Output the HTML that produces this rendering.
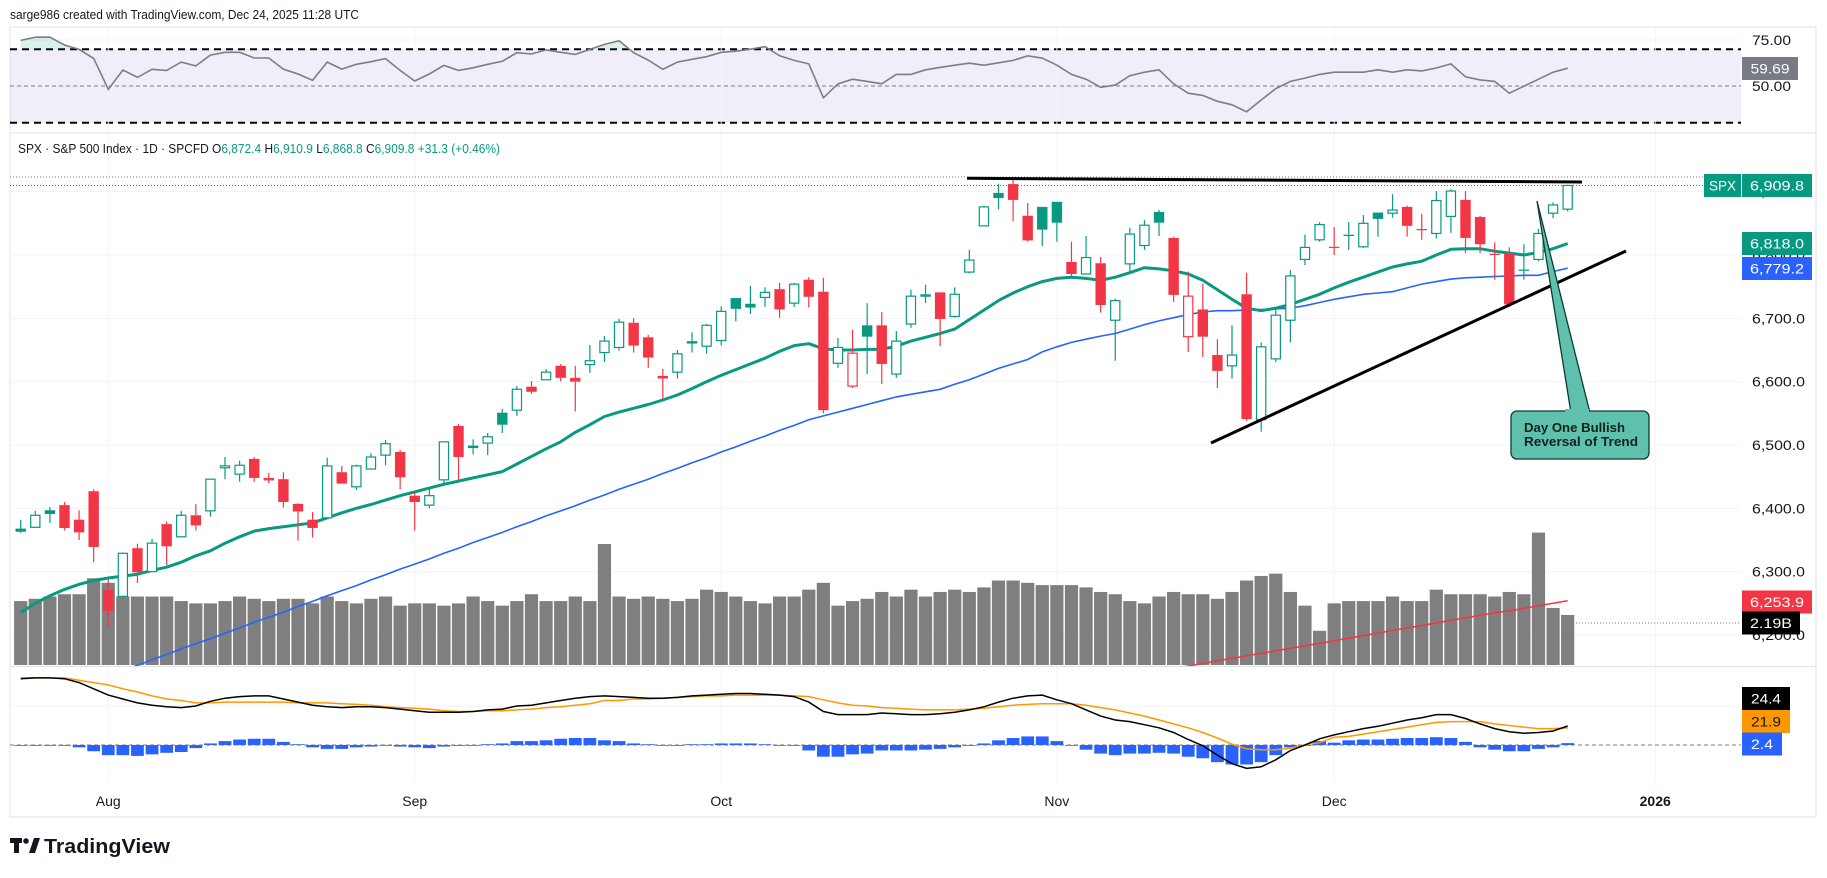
<!DOCTYPE html>
<html><head><meta charset="utf-8"><title>SPX chart</title>
<style>
html,body{margin:0;padding:0;background:#fff;}
svg{display:block;font-family:"Liberation Sans",sans-serif;}
</style></head>
<body>
<svg id="chart" width="1827" height="878" viewBox="0 0 1827 878" xmlns="http://www.w3.org/2000/svg">
  <defs>
    <clipPath id="clipMain"><rect x="10" y="134" width="1731" height="532"/></clipPath>
    <clipPath id="clipRsi"><rect x="10" y="28" width="1731" height="105"/></clipPath>
    <clipPath id="clipMacd"><rect x="10" y="667" width="1731" height="115"/></clipPath>
    <clipPath id="clipOB"><rect x="10" y="28" width="1731" height="21.2"/></clipPath>
  </defs>
  <rect x="0" y="0" width="1827" height="878" fill="#ffffff"/>
  <text x="10" y="19" font-size="13" fill="#131722" textLength="349" lengthAdjust="spacingAndGlyphs">sarge986 created with TradingView.com, Dec 24, 2025 11:28 UTC</text>
  <rect x="10" y="27" width="1806" height="790" fill="none" stroke="#e0e3eb" stroke-width="1"/>
  <rect x="10" y="49" width="1731" height="74" fill="#7e57c2" fill-opacity="0.1"/>
  <line x1="10" y1="49.2" x2="1741" y2="49.2" stroke="#000" stroke-width="2" stroke-dasharray="7,5"/>
  <line x1="10" y1="122.8" x2="1741" y2="122.8" stroke="#000" stroke-width="2" stroke-dasharray="7,5"/>
  <line x1="10" y1="86" x2="1741" y2="86" stroke="#787b86" stroke-width="1" stroke-dasharray="4,3"/>
  <g id="grid"></g>
  <line x1="10" y1="133" x2="1816" y2="133" stroke="#e0e3eb"/>
  <line x1="10" y1="666.5" x2="1816" y2="666.5" stroke="#e0e3eb"/>
  <g id="rsiG" clip-path="url(#clipRsi)"></g>
  <g id="mainG" clip-path="url(#clipMain)"></g>
  <g id="macdG" clip-path="url(#clipMacd)"></g>
  <text x="18" y="153" font-size="12.5" fill="#131722" textLength="482" lengthAdjust="spacingAndGlyphs">SPX · S&amp;P 500 Index · 1D · SPCFD  O<tspan fill="#089981">6,872.4</tspan>  H<tspan fill="#089981">6,910.9</tspan>  L<tspan fill="#089981">6,868.8</tspan>  C<tspan fill="#089981">6,909.8</tspan>  <tspan fill="#089981">+31.3 (+0.46%)</tspan></text>
  <line x1="967" y1="178.3" x2="1582" y2="182" stroke="#000" stroke-width="3"/>
  <line x1="1211" y1="443" x2="1626" y2="251" stroke="#000" stroke-width="3"/>
  <g>
    <polygon points="1537,201 1571,413 1590,413" fill="#5fc1ad" stroke="#0d3b31" stroke-width="1.3"/>
    <rect x="1511" y="411" width="138" height="48" rx="6" fill="#5fc1ad" stroke="#0d3b31" stroke-width="1.3"/>
    <rect x="1565" y="409" width="24" height="4" fill="#5fc1ad"/>
    <text x="1524" y="432" font-size="13" font-weight="bold" fill="#10231f" textLength="101" lengthAdjust="spacingAndGlyphs">Day One Bullish</text>
    <text x="1524" y="446" font-size="13" font-weight="bold" fill="#10231f" textLength="114" lengthAdjust="spacingAndGlyphs">Reversal of Trend</text>
  </g>
  <g id="axisG"></g>
  <g id="timeG"></g>
  <g>
    <rect x="10" y="838" width="12" height="5" fill="#131722"/>
    <rect x="14" y="838" width="5" height="15" fill="#131722"/>
    <circle cx="26" cy="841" r="2.8" fill="#131722"/>
    <polygon points="29,853 34,838 40,838 35,853" fill="#131722"/>
    <text x="44" y="853" font-size="20" font-weight="bold" fill="#131722" textLength="126" lengthAdjust="spacingAndGlyphs">TradingView</text>
  </g>
</svg>
<script>
// ---- chart data ----
const opens = [6368,6370,6397,6405,6382,6427,6271,6261,6337,6300,
6375,6355,6389,6396,6464,6454,6478,6445,6446,6407,
6382,6385,6457,6434,6462,6484,6489,6420,6405,6445,
6530,6499,6503,6551,6555,6592,6603,6625,6606,6627,
6646,6654,6693,6670,6609,6615,6662,6656,6665,6732,
6723,6733,6746,6724,6761,6742,6629,6593,6689,6689,
6612,6691,6735,6741,6703,6773,6846,6898,6912,6862,
6876,6884,6789,6770,6787,6697,6786,6815,6868,6827,
6671,6714,6642,6625,6738,6540,6636,6697,6793,6824,
6813,6832,6813,6867,6866,6876,6841,6834,6861,6887,
6860,6802,6803,6777,6793,6866,6872.4];
const highs = [6382,6396,6402,6410,6397,6430,6288,6330,6344,6352,
6379,6396,6407,6446,6481,6475,6481,6456,6457,6408,
6394,6480,6467,6469,6487,6508,6492,6425,6430,6505,
6533,6509,6519,6557,6593,6601,6620,6628,6625,6658,
6672,6699,6700,6674,6620,6650,6678,6691,6719,6732,
6751,6749,6756,6756,6765,6764,6669,6682,6724,6710,
6680,6745,6753,6741,6749,6808,6878,6912,6922,6882,
6876,6884,6821,6830,6797,6731,6843,6855,6871,6829,
6774,6755,6667,6689,6772,6662,6716,6776,6832,6852,
6844,6852,6863,6867,6896,6878,6865,6901,6904,6901,
6862,6820,6812,6817,6841,6883,6910.9];
const lows = [6361,6370,6377,6365,6350,6315,6212,6260,6282,6300,
6310,6355,6365,6387,6446,6442,6442,6440,6401,6349,
6354,6385,6439,6429,6461,6468,6430,6365,6400,6440,
6445,6485,6484,6519,6546,6581,6603,6601,6553,6614,
6631,6649,6646,6622,6571,6605,6646,6644,6657,6695,
6707,6718,6701,6718,6717,6550,6622,6590,6612,6596,
6606,6685,6724,6656,6701,6771,6846,6872,6853,6821,
6814,6821,6766,6770,6709,6633,6772,6808,6830,6726,
6647,6639,6590,6605,6538,6521,6631,6662,6784,6821,
6800,6808,6811,6829,6859,6829,6824,6826,6835,6803,
6803,6761,6718,6761,6790,6858,6868.8];
const closes = [6363,6389,6391,6369,6362,6339,6238,6329,6299,6345,
6340,6389,6373,6446,6467,6468,6448,6447,6410,6395,
6369,6467,6439,6467,6481,6502,6449,6410,6420,6505,
6481,6495,6513,6532,6588,6584,6615,6606,6600,6633,
6664,6694,6657,6638,6605,6644,6663,6689,6711,6715,
6717,6741,6714,6754,6734,6555,6654,6645,6671,6628,
6664,6735,6737,6699,6738,6792,6876,6890,6887,6823,
6840,6851,6770,6796,6721,6728,6833,6847,6851,6737,
6735,6671,6617,6642,6541,6655,6705,6767,6812,6848,
6812,6830,6850,6857,6871,6846,6840,6886,6901,6827,
6817,6801,6722,6775,6834,6879,6909.8];
const prevClose0 = 6360;
const volumesB = [2.8,2.9,3.0,3.1,3.1,3.8,3.6,3.0,3.0,3.0,
3.0,2.8,2.7,2.7,2.8,3.0,2.9,2.8,2.9,2.9,
2.7,3.0,2.8,2.7,2.9,3.0,2.6,2.7,2.7,2.6,
2.7,3.0,2.8,2.6,2.8,3.1,2.8,2.8,3.0,2.8,
5.3,3.0,2.9,3.0,2.9,2.8,2.9,3.3,3.2,3.0,
2.8,2.7,3.0,3.0,3.3,3.6,2.6,2.8,2.9,3.2,
3.0,3.3,3.0,3.2,3.3,3.2,3.4,3.7,3.7,3.6,
3.5,3.5,3.5,3.4,3.2,3.1,2.8,2.7,3.0,3.2,
3.1,3.1,2.9,3.2,3.7,3.9,4.0,3.2,2.6,1.5,
2.7,2.8,2.8,2.8,3.0,2.8,2.8,3.3,3.1,3.1,
3.1,3.0,3.2,3.1,5.8,2.5,2.19];
const ma20 = [6235,6250,6262,6272,6280,6286,6290,6293,6296,6302,
6307,6315,6325,6333,6345,6355,6364,6368,6371,6374,
6377,6385,6393,6400,6406,6413,6420,6426,6432,6438,
6443,6448,6453,6458,6470,6482,6494,6505,6520,6532,
6545,6552,6558,6564,6571,6579,6589,6600,6610,6619,
6628,6637,6648,6657,6660,6652,6650,6650,6651,6651,
6656,6664,6670,6676,6683,6698,6713,6728,6740,6750,
6758,6763,6765,6763,6760,6765,6772,6780,6778,6775,
6770,6760,6745,6730,6716,6712,6716,6722,6730,6738,
6748,6757,6765,6773,6781,6786,6790,6800,6809,6810,
6810,6806,6803,6800,6804,6810,6818.0];
const ma50 = [6085,6093,6101,6110,6118,6127,6135,6144,6152,6161,
6169,6178,6186,6194,6203,6211,6220,6228,6236,6245,
6253,6262,6270,6278,6287,6295,6304,6312,6320,6329,
6337,6346,6354,6362,6371,6379,6388,6396,6404,6413,
6421,6430,6438,6446,6455,6463,6472,6480,6489,6497,
6506,6514,6523,6531,6540,6546,6552,6558,6564,6570,
6576,6580,6584,6588,6596,6603,6612,6621,6628,6635,
6647,6655,6662,6667,6672,6676,6683,6690,6696,6701,
6706,6710,6712,6712,6713,6714,6715,6716,6720,6725,
6730,6734,6738,6740,6742,6748,6754,6758,6762,6764,
6765,6766,6767,6768,6768,6774,6779.2];
const ma200Start = 78;
const ma200 = [6143,6147,6151,6155,6159,6163,6167,6171,6175,6179,
6183,6187,6191,6195,6199,6203,6207,6211,6215,6219,
6223,6227,6231,6235,6238,6242,6246,6250,6253.9];
const rsi = [74.8,76.5,76.5,72.3,69.9,65.0,48.2,58.7,54.7,59.1,
58.5,63.0,60.9,66.8,68.3,68.3,65.2,65.2,59.2,56.5,
53.1,63.0,59.2,61.8,63.2,64.9,58.5,52.7,56.5,61.2,
58.5,59.9,61.8,63.4,68.1,67.4,69.6,68.3,67.2,69.9,
72.6,74.6,68.1,64.1,59.1,63.0,64.5,65.9,68.3,68.9,
70.0,71.4,66.4,63.9,62.0,43.6,51.2,53.7,52.5,51.2,
56.3,56.3,58.8,60.1,61.3,62.4,61.3,62.6,63.9,66.4,
65.1,61.3,56.3,53.7,49.3,50.5,55.6,57.5,58.8,51.2,
46.1,44.9,41.7,39.8,36.0,42.4,48.6,52.5,54.3,56.3,
57.5,57.5,57.5,58.8,57.5,58.8,58.2,59.8,62.0,55.0,
53.3,52.5,46.1,49.9,53.7,57.5,59.69];
const macd = [85,86,86,85,80,72,64,59,54,51,
49,48,50,56,60,62,63,63,59,55,
51,49,48,49,49,48,46,44,42,42,
42,43,45,46,50,51,54,57,60,62,
63,62,61,60,60,61,63,64,65,66,
66,65,64,62,55,43,39,39,39,41,
40,39,39,40,42,45,49,55,60,63,
64,58,53,45,37,32,30,26,22,16,
7,-1,-13,-24,-30,-28,-19,-7,0,8,
13,17,21,24,28,32,35,39,39,34,
27,21,17,15,16,18,24.36];
const signal = [86,86,86,86,83,80,77,72,68,63,
59,57,54,54,55,55,55,55,55,54,
54,54,53,52,51,49,48,47,46,44,
43,43,44,44,45,46,48,49,51,53,
57,57,59,59,60,61,62,63,63,64,
64,64,64,63,62,58,54,51,50,48,
47,46,45,45,45,46,47,49,51,52,
53,53,53,51,48,45,41,37,32,27,
22,16,9,1,-5,-6,-6,-4,0,3,
10,11,14,17,20,23,26,29,30,30,
30,27,25,23,21,21,21.94];
const priceTicks = [6200,6300,6400,6500,6600,6700,6800,6900];
const priceTickLabels = ["6,200.0","6,300.0","6,400.0","6,500.0","6,600.0","6,700.0","6,800.0","6,900.0"];
const rsiTicks = [75,50];
const rsiTickLabels = ["75.00","50.00"];
const monthLabels = ["Aug","Sep","Oct","Nov","Dec","2026"];
const monthBarIndex = [6,27,48,71,90,112];

// ---- scales ----
const X0 = 20.7, DX = 14.594;
function xAt(i){ return X0 + DX*i; }
function yP(p){ return 255 - (p-6800)*0.6333; }
function yR(v){ return 86 - (v-50)*1.84; }
function yM(v){ return 745 - v*0.78; }
function yV(v){ return 665 - v*22.83; }

const NS = "http://www.w3.org/2000/svg";
function mk(tag, attrs, parent){
  const e = document.createElementNS(NS, tag);
  for (const k in attrs) e.setAttribute(k, attrs[k]);
  parent.appendChild(e);
  return e;
}
const GREEN = "#089981", RED = "#f23645";
const grid = document.getElementById('grid');
const mainG = document.getElementById('mainG');
const rsiG = document.getElementById('rsiG');
const macdG = document.getElementById('macdG');
const axisG = document.getElementById('axisG');
const timeG = document.getElementById('timeG');

priceTicks.forEach((p)=>{
  const l = mk('line',{x1:10,x2:1741,y1:yP(p),y2:yP(p),stroke:'#f0f3fa','stroke-width':1},grid);
  
  
});
{
  const l = mk('line',{x1:10,x2:1741,y1:yR(75),y2:yR(75),stroke:'#f0f3fa'},grid);
  
  
  const l2 = mk('line',{x1:10,x2:1741,y1:yM(50),y2:yM(50),stroke:'#f0f3fa'},grid);
  
  
}
monthBarIndex.forEach((bi, k)=>{
  const x = xAt(bi);
  const l = mk('line',{x1:x,x2:x,y1:28,y2:782,stroke:'#f0f3fa'},grid);
  
  
  const t = mk('text',{x:x,y:806,'font-size':14,'text-anchor':'middle',fill:'#131722','font-weight': monthLabels[k]==='2026'?'bold':'normal'},timeG);
  t.textContent = monthLabels[k];
  
  
});

volumesB.forEach((v,i)=>{
  const y = yV(v);
  const r = mk('rect',{x:xAt(i)-6.6,y:y,width:13.2,height:665-y,fill:'#7f7f7f'},mainG);
  
  
});

{
  const hl = mk('line',{x1:10,x2:1741,y1:177,y2:177,stroke:'#787b86','stroke-dasharray':'1,2'},mainG);
  
  
  const lp = mk('line',{x1:10,x2:1741,y1:yP(closes[closes.length-1]),y2:yP(closes[closes.length-1]),stroke:GREEN,'stroke-dasharray':'1,2'},mainG);
  
  
}

function linePath(arr, fy, start){
  let d = '';
  arr.forEach((v,k)=>{
    if (v===null) return;
    const i = k + (start||0);
    d += (d===''?'M':'L') + xAt(i).toFixed(1) + ',' + fy(v).toFixed(1);
  });
  return d;
}

{
  const p200 = mk('path',{d:linePath(ma200,yP,ma200Start),fill:'none',stroke:RED,'stroke-width':1.5},mainG);
  
  
  const p50 = mk('path',{d:linePath(ma50,yP),fill:'none',stroke:'#2962ff','stroke-width':1.6},mainG);
  
  
  const p20 = mk('path',{d:linePath(ma20,yP),fill:'none',stroke:GREEN,'stroke-width':3,'stroke-linejoin':'round'},mainG);
  
  
}

closes.forEach((c,i)=>{
  const o = opens[i], h = highs[i], l = lows[i];
  const pc = i===0 ? prevClose0 : closes[i-1];
  const col = c >= pc ? GREEN : RED;
  const hollow = c > o;
  const x = xAt(i);
  const yTop = Math.min(yP(o), yP(c)), yBot = Math.max(yP(o), yP(c));
  const g = mk('g',{},mainG);
  
  
  mk('line',{x1:x,x2:x,y1:yP(h),y2:yTop,stroke:col,'stroke-width':1.2},g);
  mk('line',{x1:x,x2:x,y1:yBot,y2:yP(l),stroke:col,'stroke-width':1.2},g);
  const bh = Math.max(yBot-yTop, 1.2);
  if (hollow) {
    mk('rect',{x:x-4.6,y:yTop,width:9.2,height:Math.max(bh,1),fill:'#ffffff',stroke:col,'stroke-width':1.2},g);
  } else {
    mk('rect',{x:x-5.2,y:yTop,width:10.4,height:bh,fill:col},g);
  }
});

{
  const d = linePath(rsi,yR);
  const lastX = xAt(rsi.length-1);
  const area = mk('path',{d:d+'L'+lastX+','+yR(70)+'L'+xAt(0)+','+yR(70)+'Z',fill:GREEN,'fill-opacity':0.15,'clip-path':'url(#clipOB)'},rsiG);
  
  
  const p = mk('path',{d:d,fill:'none',stroke:'#7e7e7e','stroke-width':1.6},rsiG);
  
  
}

{
  const z = mk('line',{x1:10,x2:1741,y1:yM(0),y2:yM(0),stroke:'#787b86','stroke-dasharray':'4,3'},macdG);
  
  
  macd.forEach((m,i)=>{
    const h = m - signal[i];
    const y0 = yM(0), y1 = yM(h);
    const r = mk('rect',{x:xAt(i)-6.4,y:Math.min(y0,y1),width:12.8,height:Math.max(Math.abs(y1-y0),0.8),fill:'#2962ff'},macdG);
    
    
  });
  const ps = mk('path',{d:linePath(signal,yM),fill:'none',stroke:'#ff9800','stroke-width':1.5},macdG);
  
  
  const pm = mk('path',{d:linePath(macd,yM),fill:'none',stroke:'#000000','stroke-width':1.5},macdG);
  
  
}

priceTicks.forEach((p,k)=>{
  const t = mk('text',{x:1752,y:yP(p)+5,'font-size':14,fill:'#131722',textLength:53,lengthAdjust:'spacingAndGlyphs'},axisG);
  t.textContent = priceTickLabels[k];
  
  
});
rsiTicks.forEach((v,k)=>{
  const t = mk('text',{x:1752,y:yR(v)+5,'font-size':14,fill:'#131722',textLength:39,lengthAdjust:'spacingAndGlyphs'},axisG);
  t.textContent = rsiTickLabels[k];
  
  
});
function badge(x, yc, w, bg, fg, txt, name, tl){
  const g = mk('g',{},axisG);
  
  
  mk('rect',{x:x,y:yc-11.5,width:w,height:23,fill:bg},g);
  const t = mk('text',{x:x+(w/2),y:yc+5,'font-size':14,'text-anchor':'middle',fill:fg,textLength:tl,lengthAdjust:'spacingAndGlyphs'},g);
  t.textContent = txt;
}
const lastI = closes.length-1;
const fmt1 = v => v.toLocaleString('en-US',{minimumFractionDigits:1,maximumFractionDigits:1});
badge(1742, 68.5, 56, '#787b86', '#ffffff', rsi[lastI].toFixed(2), 'rsi-value-badge', 39);
badge(1704, 185.5, 37, GREEN, '#ffffff', 'SPX', 'symbol-badge', 27);
badge(1742, 185.5, 70, GREEN, '#ffffff', fmt1(closes[lastI]), 'last-price-badge', 54);
badge(1742, 243.5, 70, GREEN, '#ffffff', fmt1(ma20[lastI]), 'ema20-badge', 54);
badge(1742, 268.5, 70, '#2962ff', '#ffffff', fmt1(ma50[lastI]), 'sma50-badge', 54);
badge(1742, 602, 70, RED, '#ffffff', fmt1(ma200[ma200.length-1]), 'sma200-badge', 54);
badge(1742, 623, 58, '#000000', '#ffffff', volumesB[lastI].toFixed(2)+'B', 'volume-badge', 42);
badge(1742, 698.5, 48, '#000000', '#ffffff', macd[lastI].toFixed(1), 'macd-badge', 30);
badge(1742, 721.5, 48, '#ff9800', '#131722', signal[lastI].toFixed(1), 'signal-badge', 30);
badge(1742, 744, 40, '#2962ff', '#ffffff', (macd[lastI]-signal[lastI]).toFixed(1), 'histogram-badge', 22);
{
  const vl = mk('line',{x1:1570,x2:1741,y1:623,y2:623,stroke:'#787b86','stroke-dasharray':'1,2'},axisG);
  
  
}
</script>
</body></html>
